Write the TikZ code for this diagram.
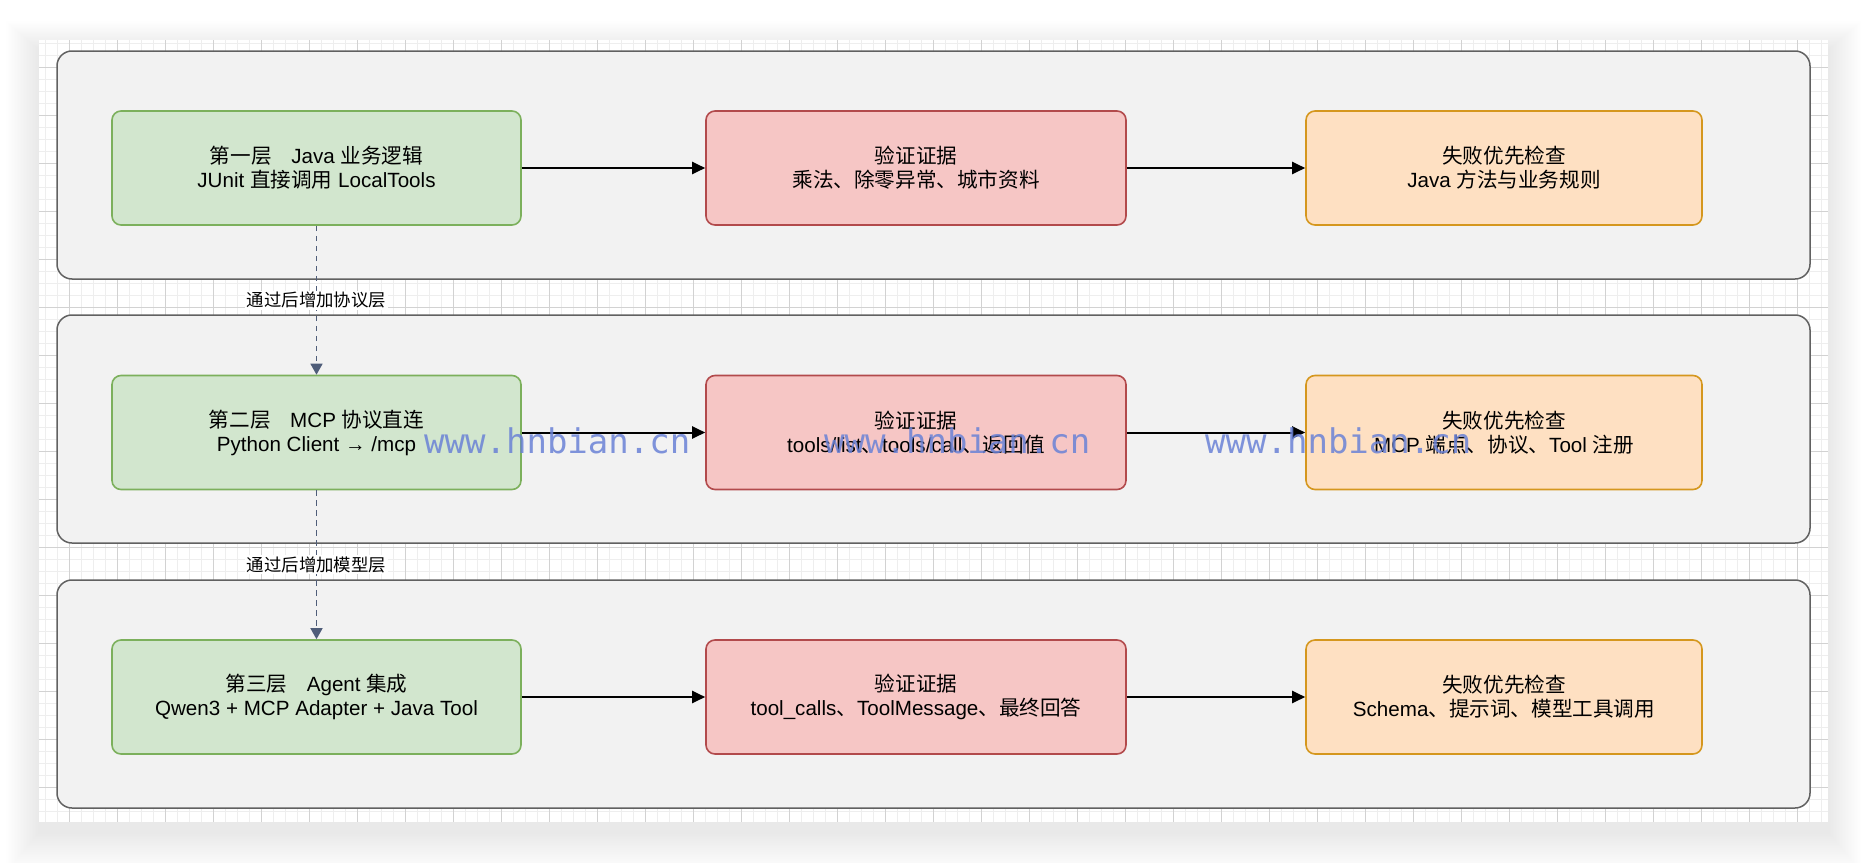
\documentclass[tikz,border=0pt]{standalone}
\usepackage{fontspec}
\setmainfont{Liberation Sans}
\newfontfamily\cjk{Noto Sans CJK SC}
\newfontfamily\wmfont{DejaVu Sans Mono}
\usetikzlibrary{arrows.meta}
\newcommand\zh[1]{{\cjk #1}}
\definecolor{gfill}{HTML}{D2E6CE}
\definecolor{gline}{HTML}{7CB05C}
\definecolor{rfill}{HTML}{F6C6C5}
\definecolor{rline}{HTML}{B24A4C}
\definecolor{ofill}{HTML}{FEE0C2}
\definecolor{oline}{HTML}{D5971E}
\definecolor{cfill}{HTML}{F2F2F2}
\definecolor{cline}{HTML}{616161}
\definecolor{dconn}{HTML}{4F5D79}
\definecolor{minorg}{HTML}{EEEEEE}
\definecolor{majorg}{HTML}{D2D2D2}
\definecolor{wm}{HTML}{6A82D6}
\tikzset{
  container/.style={draw=cline, fill=cfill, line width=1.5pt, rounded corners=15pt,
    minimum width=1753pt, minimum height=228pt, inner sep=0pt},
  box/.style={rounded corners=9pt, minimum width=409pt, minimum height=114pt,
    inner sep=0pt, align=center, line width=1.6pt, font=\fontsize{20.6}{24}\selectfont},
  gbox/.style={box, draw=gline, fill=gfill},
  rbox/.style={box, draw=rline, fill=rfill, minimum width=420pt},
  obox/.style={box, draw=oline, fill=ofill, minimum width=396pt},
  flow/.style={line width=2pt, -{Triangle[length=13pt,width=12pt]}},
  dashconn/.style={dconn, line width=1.4pt, dash pattern=on 5.5pt off 4.5pt,
    -{Triangle[length=11pt,width=12pt]}},
  lbl/.style={fill=white, text=black, inner sep=1.5pt, font=\fontsize{17.4}{19}\selectfont},
  minorline/.style={minorg, line width=0.8pt},
  majorline/.style={majorg, line width=0.8pt},
  wmark/.style={text=wm, opacity=0.85, inner sep=0pt, anchor=base west,
    font=\wmfont\fontsize{34}{34}\selectfont}
}
\begin{document}
\begin{tikzpicture}[x=1pt,y=-1pt]
\useasboundingbox (0,0) rectangle (1868,862);
\fill[white] (0,0) rectangle (1868,862);
% soft shadow of the page
\foreach \i in {1,...,22}
  \fill[black, opacity=0.0042] (39-1.5*\i, 40-1.3*\i+10) rectangle (1828+1.5*\i, 822+1.8*\i+10);
\fill[white] (39,40) rectangle (1828,822);
% grid
\foreach \x in {45,57,...,1827} \draw[minorline] (\x,40) -- (\x,822);
\foreach \y in {43,55,...,821} \draw[minorline] (39,\y) -- (1828,\y);
\foreach \x in {69,117,...,1827} \draw[majorline] (\x,40) -- (\x,822);
\foreach \y in {67,115,...,821} \draw[majorline] (39,\y) -- (1828,\y);

% containers
\node[container] (c1) at (933.5,165) {};
\node[container] (c2) at (933.5,429) {};
\node[container] (c3) at (933.5,694) {};

% row 1
\node[gbox] (g1) at (316.5,168) {\zh{第一层}\hspace{0.95em}Java \zh{业务逻辑}\\JUnit \zh{直接调用} LocalTools};
\node[rbox] (r1) at (916,168) {\zh{验证证据}\\\zh{乘法、除零异常、城市资料}};
\node[obox] (o1) at (1504,168) {\zh{失败优先检查}\\Java \zh{方法与业务规则}};
% row 2
\node[gbox] (g2) at (316.5,432.5) {\zh{第二层}\hspace{0.95em}MCP \zh{协议直连}\\Python Client → /mcp};
\node[rbox] (r2) at (916,432.5) {\zh{验证证据}\\tools/list\zh{、}tools/call\zh{、返回值}};
\node[obox] (o2) at (1504,432.5) {\zh{失败优先检查}\\MCP \zh{端点、协议、}Tool \zh{注册}};
% row 3
\node[gbox] (g3) at (316.5,697) {\zh{第三层}\hspace{0.95em}Agent \zh{集成}\\Qwen3 + MCP Adapter + Java Tool};
\node[rbox] (r3) at (916,697) {\zh{验证证据}\\tool\_calls\zh{、}ToolMessage\zh{、最终回答}};
\node[obox] (o3) at (1504,697) {\zh{失败优先检查}\\Schema\zh{、提示词、模型工具调用}};

% flows
\foreach \n in {1,2,3} {
  \draw[flow] (g\n.east) -- (r\n.west);
  \draw[flow] (r\n.east) -- (o\n.west);
}
% layer transitions
\draw[dashconn] (g1.south) -- node[lbl] {\zh{通过后增加协议层}} (g2.north);
\draw[dashconn] (g2.south) -- node[lbl] {\zh{通过后增加模型层}} (g3.north);

% watermark
\node[wmark] (w1) at (424,453) {www.hnbian.cn};
\node[wmark] (w2) at (824,453) {www.hnbian.cn};
\node[wmark] (w3) at (1205,453) {www.hnbian.cn};
\end{tikzpicture}
\end{document}
